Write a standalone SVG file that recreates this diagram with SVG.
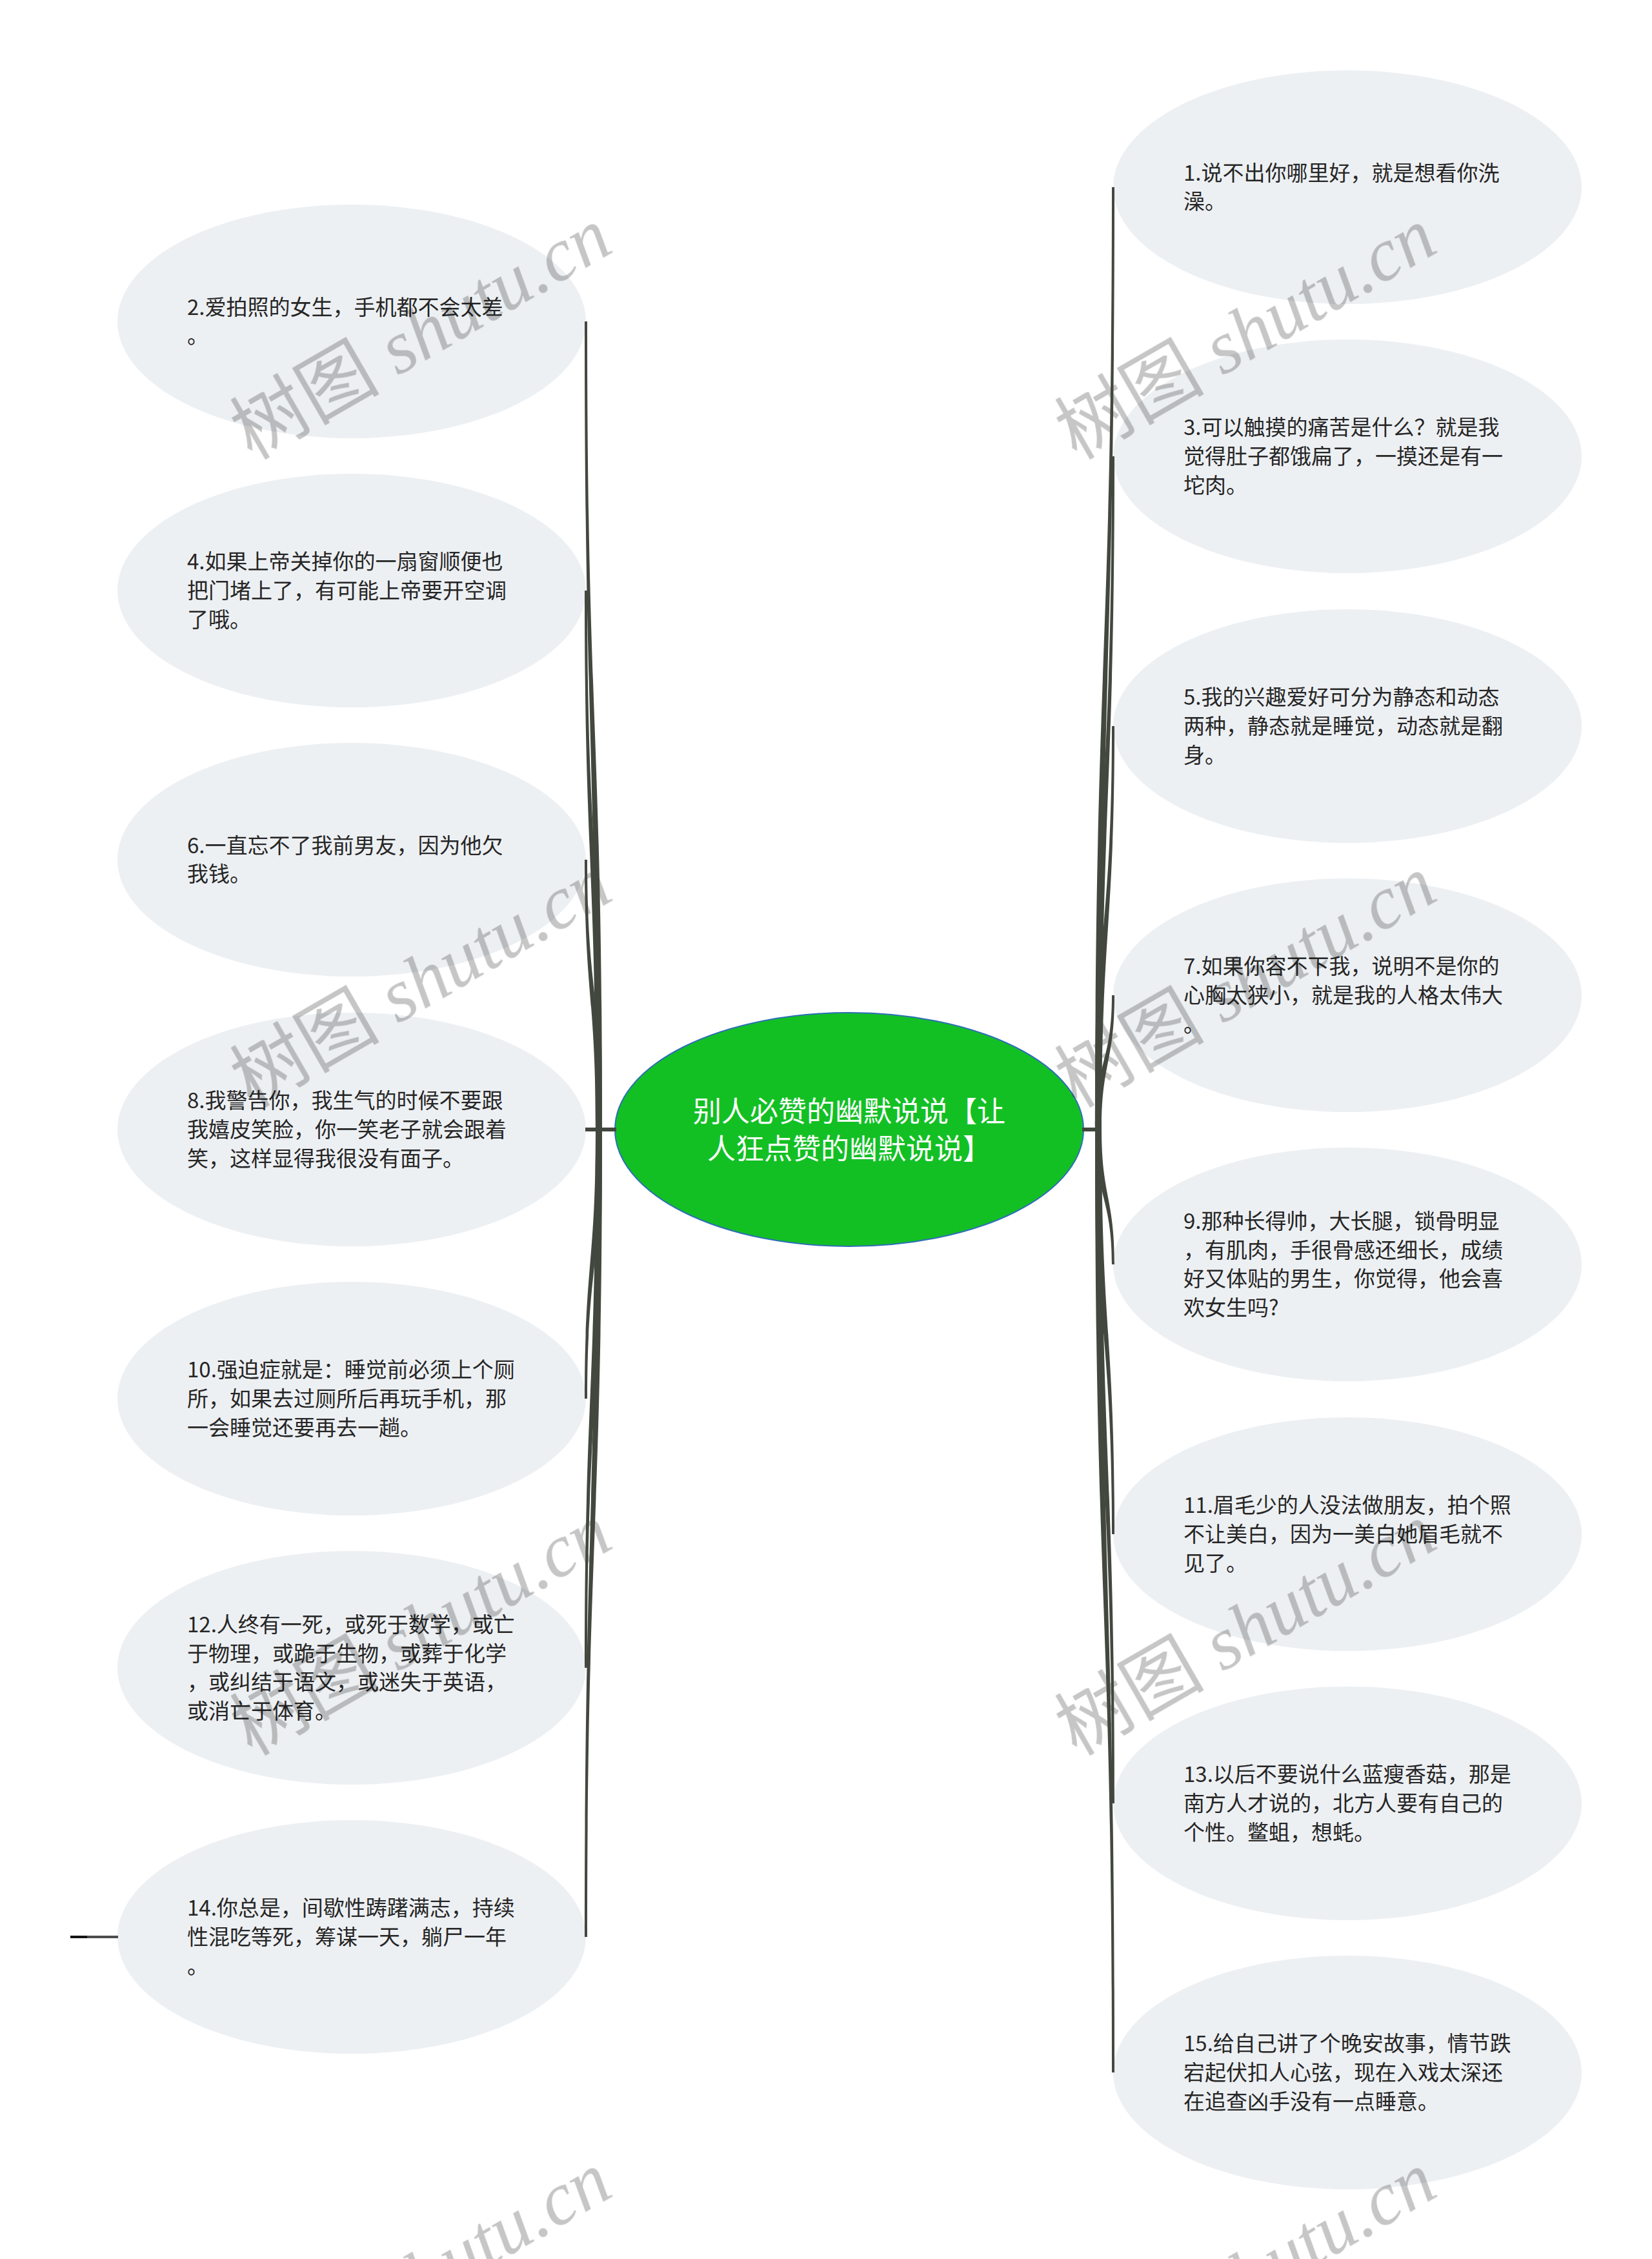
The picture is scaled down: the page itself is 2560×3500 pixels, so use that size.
<svg xmlns="http://www.w3.org/2000/svg" width="2560" height="3500" viewBox="0 0 2560 3500">
<style>
.node ellipse{fill:#edf0f3}
.node text{font-family:"Noto Sans CJK SC","Noto Sans",sans-serif;font-size:33px;fill:#262626}
.root ellipse{fill:#13c024;stroke:#2d6fb6;stroke-width:2}
.root text{font-family:"Noto Sans CJK SC","Noto Sans",sans-serif;font-size:44px;fill:#ffffff;text-anchor:middle}
.conn path{fill:#43483f}
.conn line{stroke:#43483f;stroke-width:6}
.wm{font-size:116px;fill:#c6c6c6;mix-blend-mode:multiply;text-anchor:middle}
.wm .cj{font-family:"Noto Sans CJK SC",sans-serif;font-weight:400}
.wm .lt{font-family:"Liberation Serif",serif;font-style:italic}
</style>
<rect width="2560" height="3500" fill="#ffffff"/>

<g id="root" class="root">
<ellipse cx="1316" cy="1750" rx="363" ry="181"/>
<text x="1316" y="1738">别人必赞的幽默说说【让</text>
<text x="1316" y="1796">人狂点赞的幽默说说】</text>
</g>

<g id="n1" class="node"><ellipse cx="2088" cy="290" rx="363" ry="181"/>
<text x="1834" y="279.7">1.说不出你哪里好，就是想看你洗<tspan x="1834" dy="44.6">澡。</tspan></text></g>
<g id="n2" class="node"><ellipse cx="545" cy="498" rx="363" ry="181"/>
<text x="290" y="487.7">2.爱拍照的女生，手机都不会太差<tspan x="290" dy="44.6">。</tspan></text></g>
<g id="n3" class="node"><ellipse cx="2088" cy="707" rx="363" ry="181"/>
<text x="1834" y="674.4">3.可以触摸的痛苦是什么？就是我<tspan x="1834" dy="44.6">觉得肚子都饿扁了，一摸还是有一</tspan><tspan x="1834" dy="44.6">坨肉。</tspan></text></g>
<g id="n4" class="node"><ellipse cx="545" cy="915" rx="363" ry="181"/>
<text x="290" y="882.4">4.如果上帝关掉你的一扇窗顺便也<tspan x="290" dy="44.6">把门堵上了，有可能上帝要开空调</tspan><tspan x="290" dy="44.6">了哦。</tspan></text></g>
<g id="n5" class="node"><ellipse cx="2088" cy="1125" rx="363" ry="181"/>
<text x="1834" y="1092.4">5.我的兴趣爱好可分为静态和动态<tspan x="1834" dy="44.6">两种，静态就是睡觉，动态就是翻</tspan><tspan x="1834" dy="44.6">身。</tspan></text></g>
<g id="n6" class="node"><ellipse cx="545" cy="1332" rx="363" ry="181"/>
<text x="290" y="1321.7">6.一直忘不了我前男友，因为他欠<tspan x="290" dy="44.6">我钱。</tspan></text></g>
<g id="n7" class="node"><ellipse cx="2088" cy="1542" rx="363" ry="181"/>
<text x="1834" y="1509.4">7.如果你容不下我，说明不是你的<tspan x="1834" dy="44.6">心胸太狭小，就是我的人格太伟大</tspan><tspan x="1834" dy="44.6">。</tspan></text></g>
<g id="n8" class="node"><ellipse cx="545" cy="1750" rx="363" ry="181"/>
<text x="290" y="1717.4">8.我警告你，我生气的时候不要跟<tspan x="290" dy="44.6">我嬉皮笑脸，你一笑老子就会跟着</tspan><tspan x="290" dy="44.6">笑，这样显得我很没有面子。</tspan></text></g>
<g id="n9" class="node"><ellipse cx="2088" cy="1959" rx="363" ry="181"/>
<text x="1834" y="1904.1">9.那种长得帅，大长腿，锁骨明显<tspan x="1834" dy="44.6">，有肌肉，手很骨感还细长，成绩</tspan><tspan x="1834" dy="44.6">好又体贴的男生，你觉得，他会喜</tspan><tspan x="1834" dy="44.6">欢女生吗?</tspan></text></g>
<g id="n10" class="node"><ellipse cx="545" cy="2167" rx="363" ry="181"/>
<text x="290" y="2134.4">10.强迫症就是：睡觉前必须上个厕<tspan x="290" dy="44.6">所，如果去过厕所后再玩手机，那</tspan><tspan x="290" dy="44.6">一会睡觉还要再去一趟。</tspan></text></g>
<g id="n11" class="node"><ellipse cx="2088" cy="2377" rx="363" ry="181"/>
<text x="1834" y="2344.4">11.眉毛少的人没法做朋友，拍个照<tspan x="1834" dy="44.6">不让美白，因为一美白她眉毛就不</tspan><tspan x="1834" dy="44.6">见了。</tspan></text></g>
<g id="n12" class="node"><ellipse cx="545" cy="2584" rx="363" ry="181"/>
<text x="290" y="2529.1">12.人终有一死，或死于数学，或亡<tspan x="290" dy="44.6">于物理，或跪于生物，或葬于化学</tspan><tspan x="290" dy="44.6">，或纠结于语文，或迷失于英语，</tspan><tspan x="290" dy="44.6">或消亡于体育。</tspan></text></g>
<g id="n13" class="node"><ellipse cx="2088" cy="2794" rx="363" ry="181"/>
<text x="1834" y="2761.4">13.以后不要说什么蓝瘦香菇，那是<tspan x="1834" dy="44.6">南方人才说的，北方人要有自己的</tspan><tspan x="1834" dy="44.6">个性。鳖蛆，想蚝。</tspan></text></g>
<g id="n14" class="node"><ellipse cx="545" cy="3001" rx="363" ry="181"/>
<text x="290" y="2968.4">14.你总是，间歇性踌躇满志，持续<tspan x="290" dy="44.6">性混吃等死，筹谋一天，躺尸一年</tspan><tspan x="290" dy="44.6">。</tspan></text></g>
<g id="n15" class="node"><ellipse cx="2088" cy="3211" rx="363" ry="181"/>
<text x="1834" y="3178.4">15.给自己讲了个晚安故事，情节跌<tspan x="1834" dy="44.6">宕起伏扣人心弦，现在入戏太深还</tspan><tspan x="1834" dy="44.6">在追查凶手没有一点睡意。</tspan></text></g>

<g id="watermark" class="wm">
<text transform="translate(652,516) rotate(-30)" y="40"><tspan class="cj">树图</tspan><tspan class="lt"> shutu.cn</tspan></text>
<text transform="translate(1930,516) rotate(-30)" y="40"><tspan class="cj">树图</tspan><tspan class="lt"> shutu.cn</tspan></text>
<text transform="translate(652,1520) rotate(-30)" y="40"><tspan class="cj">树图</tspan><tspan class="lt"> shutu.cn</tspan></text>
<text transform="translate(1930,1520) rotate(-30)" y="40"><tspan class="cj">树图</tspan><tspan class="lt"> shutu.cn</tspan></text>
<text transform="translate(652,2524) rotate(-30)" y="40"><tspan class="cj">树图</tspan><tspan class="lt"> shutu.cn</tspan></text>
<text transform="translate(1930,2524) rotate(-30)" y="40"><tspan class="cj">树图</tspan><tspan class="lt"> shutu.cn</tspan></text>
<text transform="translate(652,3528) rotate(-30)" y="40"><tspan class="cj">树图</tspan><tspan class="lt"> shutu.cn</tspan></text>
<text transform="translate(1930,3528) rotate(-30)" y="40"><tspan class="cj">树图</tspan><tspan class="lt"> shutu.cn</tspan></text>
</g>

<g id="connectors" class="conn">
<line x1="907" y1="1750" x2="955" y2="1750"/>
<line x1="1677" y1="1750" x2="1704" y2="1750"/>
<path d="M923,1750 C923,1124 906,1124 906,498 L910,498 C910,1124 933,1124 933,1750 Z"/>
<path d="M923,1750 C923,1332.5 906,1332.5 906,915 L910,915 C910,1332.5 933,1332.5 933,1750 Z"/>
<path d="M923,1750 C923,1541 906,1541 906,1332 L910,1332 C910,1541 933,1541 933,1750 Z"/>
<path d="M923,1750 C923,1958.5 906,1958.5 906,2167 L910,2167 C910,1958.5 933,1958.5 933,1750 Z"/>
<path d="M923,1750 C923,2167 906,2167 906,2584 L910,2584 C910,2167 933,2167 933,1750 Z"/>
<path d="M923,1750 C923,2375.5 906,2375.5 906,3001 L910,3001 C910,2375.5 933,2375.5 933,1750 Z"/>
<path d="M1697,1750 C1697,1020 1723,1020 1723,290 L1727,290 C1727,1020 1707,1020 1707,1750 Z"/>
<path d="M1697,1750 C1697,1228.5 1723,1228.5 1723,707 L1727,707 C1727,1228.5 1707,1228.5 1707,1750 Z"/>
<path d="M1697,1750 C1697,1437.5 1723,1437.5 1723,1125 L1727,1125 C1727,1437.5 1707,1437.5 1707,1750 Z"/>
<path d="M1697,1750 C1697,1646 1723,1646 1723,1542 L1727,1542 C1727,1646 1707,1646 1707,1750 Z"/>
<path d="M1697,1750 C1697,1854.5 1723,1854.5 1723,1959 L1727,1959 C1727,1854.5 1707,1854.5 1707,1750 Z"/>
<path d="M1697,1750 C1697,2063.5 1723,2063.5 1723,2377 L1727,2377 C1727,2063.5 1707,2063.5 1707,1750 Z"/>
<path d="M1697,1750 C1697,2272 1723,2272 1723,2794 L1727,2794 C1727,2272 1707,2272 1707,1750 Z"/>
<path d="M1697,1750 C1697,2480.5 1723,2480.5 1723,3211 L1727,3211 C1727,2480.5 1707,2480.5 1707,1750 Z"/>
<line x1="109" y1="3001" x2="135" y2="3001" style="stroke:#141414;stroke-width:4"/>
<line x1="135" y1="3001" x2="183" y2="3001" style="stroke:#4a4d4a;stroke-width:4"/>
</g>
</svg>
